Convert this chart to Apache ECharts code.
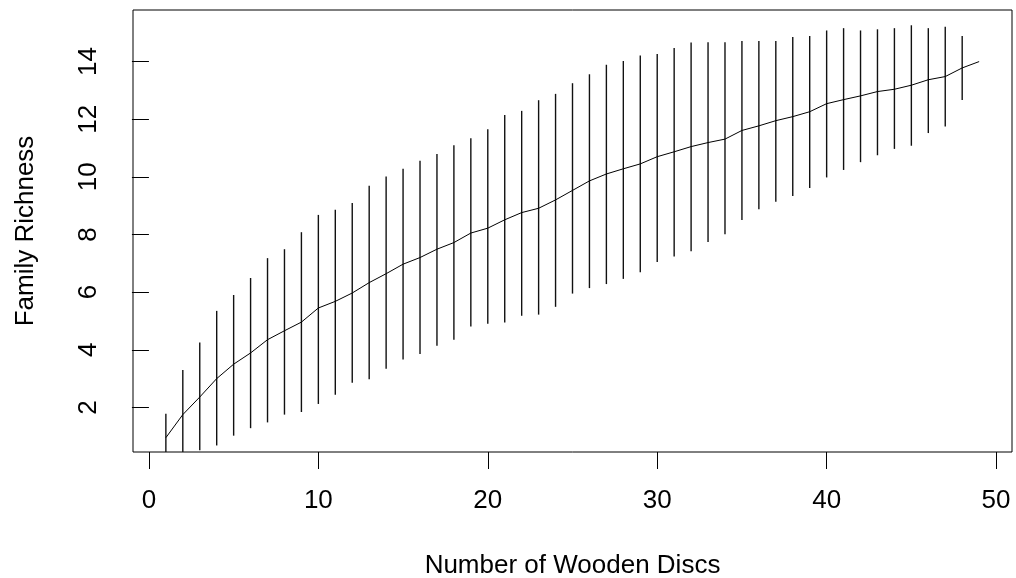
<!DOCTYPE html>
<html>
<head>
<meta charset="utf-8">
<script src="https://cdn.jsdelivr.net/npm/echarts@6/dist/echarts.min.js"></script>
<style>html,body{margin:0;padding:0;background:#fff;}#chart{width:1016px;height:578px;}</style>
</head>
<body>
<div id="chart"></div>
<script>
// Number of wooden discs (sample size)
const discs = [1,2,3,4,5,6,7,8,9,10,11,12,13,14,15,16,17,18,19,20,21,22,23,24,25,26,27,28,29,30,31,32,33,34,35,36,37,38,39,40,41,42,43,44,45,46,47,48,49];
// Mean accumulated family richness
const richness = [0.95,1.75,2.36,3.0,3.5,3.89,4.35,4.66,4.96,5.45,5.68,5.97,6.33,6.64,6.97,7.2,7.49,7.72,8.05,8.22,8.51,8.76,8.91,9.2,9.53,9.86,10.1,10.28,10.45,10.7,10.87,11.05,11.19,11.31,11.61,11.77,11.95,12.09,12.26,12.54,12.68,12.81,12.96,13.04,13.18,13.37,13.48,13.78,14.0];
// Error bar ends (discs 1..48)
const upper = [1.78,3.3,4.25,5.35,5.9,6.49,7.18,7.49,8.08,8.68,8.86,9.09,9.69,10.01,10.28,10.56,10.79,11.1,11.34,11.65,12.15,12.29,12.66,12.88,13.25,13.56,13.89,14.02,14.21,14.26,14.47,14.66,14.67,14.67,14.71,14.71,14.71,14.85,14.89,15.08,15.16,15.08,15.12,15.16,15.26,15.16,15.21,14.89];
const lower = [0.12,0.2,0.51,0.68,1.02,1.28,1.48,1.75,1.84,2.12,2.44,2.86,2.98,3.34,3.66,3.85,4.14,4.35,4.81,4.9,4.95,5.18,5.22,5.49,5.95,6.14,6.28,6.46,6.69,7.05,7.24,7.42,7.74,8.01,8.5,8.88,9.14,9.34,9.61,9.98,10.24,10.51,10.75,10.97,11.08,11.52,11.75,12.67];
// Tick labels
const xTicks = [0,10,20,30,40,50];
const yTicks = [2,4,6,8,10,12,14];

const FONT = "'Liberation Sans', Arial, sans-serif";
const lineData = discs.map((d, i) => [d, richness[i]]);
const barData = upper.map((u, i) => [discs[i], lower[i], u]);

const chart = echarts.init(document.getElementById('chart'), null, {renderer: 'canvas'});
chart.setOption({
  animation: false,
  backgroundColor: '#fff',
  grid: {
    left: 133, top: 10, right: 4, bottom: 126,
    outerBoundsMode: 'none', containLabel: false,
    show: true, borderColor: '#000', borderWidth: 1, backgroundColor: 'transparent'
  },
  xAxis: {
    type: 'value', min: -0.94, max: 50.94,
    name: 'Number of Wooden Discs', nameLocation: 'middle', nameGap: 101,
    nameTextStyle: {fontFamily: FONT, fontSize: 26, color: '#000'},
    axisLine: {show: false},
    splitLine: {show: false},
    axisTick: {show: true, length: 17, customValues: xTicks, lineStyle: {color: '#000', width: 1}},
    axisLabel: {customValues: xTicks, fontFamily: FONT, fontSize: 26, color: '#000', margin: 36}
  },
  yAxis: {
    type: 'value', min: 0.453, max: 15.79,
    name: 'Family Richness', nameLocation: 'middle', nameGap: 94,
    nameTextStyle: {fontFamily: FONT, fontSize: 26, color: '#000'},
    axisLine: {show: false},
    splitLine: {show: false},
    axisTick: {show: true, length: 17, customValues: yTicks, lineStyle: {color: '#000', width: 1}},
    axisLabel: {customValues: yTicks, rotate: 90, fontFamily: FONT, fontSize: 26, color: '#000', margin: 31}
  },
  series: [
    {
      type: 'custom',
      data: barData,
      renderItem: function (params, api) {
        const cs = params.coordSys;
        const x = api.value(0);
        const p1 = api.coord([x, api.value(1)]);
        const p2 = api.coord([x, api.value(2)]);
        const clampY = y => Math.max(cs.y, Math.min(cs.y + cs.height, y));
        return {
          type: 'line',
          shape: {x1: p1[0], y1: clampY(p1[1]), x2: p2[0], y2: clampY(p2[1])},
          style: {stroke: '#111', lineWidth: 1.4}
        };
      },
      silent: true
    },
    {
      type: 'line',
      data: lineData,
      symbol: 'none',
      lineStyle: {color: '#000', width: 1},
      silent: true
    }
  ]
});
</script>
</body>
</html>
